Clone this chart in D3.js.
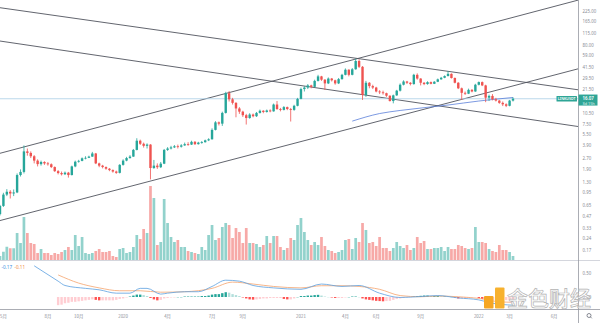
<!DOCTYPE html>
<html><head><meta charset="utf-8">
<script src="https://cdn.jsdelivr.net/npm/d3@7"></script>
<style>body{margin:0;background:#fff}svg{display:block}text{font-family:"Noto Sans","DejaVu Sans",sans-serif}</style>
</head><body><svg id="c" width="600" height="323"></svg>
<script>
// ---------- DATA (weekly LINKUSDT) ----------
const startDate = "2019-04-29";   // Monday of the first weekly bar
const endDate = "2022-03-14";     // Monday of the last weekly bar
const firstOpen = 0.50;
const closes = [0.64,0.90,0.98,0.93,0.96,1.62,1.78,3.30,3.15,2.85,
 2.50,2.25,2.40,2.30,2.24,2.06,1.82,1.72,1.66,1.74,
 1.62,2.10,2.42,2.48,2.68,2.72,2.82,3.10,2.30,2.15,
 2.06,1.96,1.88,1.80,1.73,2.20,2.50,2.70,2.82,3.45,
 4.55,4.15,3.90,4.05,2.00,2.15,2.05,2.28,3.45,3.60,
 3.72,3.85,3.80,3.95,4.10,4.05,4.40,4.10,4.30,4.35,
 4.60,4.75,6.30,7.90,7.60,10.5,19.0,15.8,14.2,12.0,
 10.9,9.80,9.00,10.0,9.50,10.5,11.2,10.8,11.3,11.0,
 13.5,11.8,11.5,12.5,11.8,11.5,13.0,16.0,21.5,22.5,
 24.0,23.0,27.5,31.5,28.5,25.5,29.5,28.0,25.5,29.0,
 33.0,38.5,33.0,39.0,50.0,42.0,18.0,26.0,23.5,22.5,
 20.0,19.5,19.0,17.6,15.0,17.8,20.5,24.5,27.0,26.0,
 25.0,33.0,29.5,26.0,25.0,26.5,25.2,26.8,28.8,30.2,
 31.8,34.0,30.0,26.0,22.0,19.2,18.7,21.0,20.0,24.5,
 26.5,24.0,16.6,17.5,15.8,15.2,14.2,13.6,13.0,15.2,
 16.07];
const highs = [0.66,0.95,1.06,1.03,1.05,1.70,1.92,3.95,3.60,3.30,
 2.95,2.60,2.50,2.45,2.40,2.30,2.10,1.88,1.80,1.80,
 1.78,2.15,2.50,2.56,2.75,2.85,2.90,3.25,3.15,2.35,
 2.20,2.10,2.00,1.92,1.85,2.25,2.60,2.80,2.95,3.55,
 4.90,4.70,4.30,4.20,4.10,2.55,2.30,2.40,3.55,3.75,
 3.90,4.00,4.05,4.10,4.30,4.35,4.55,4.50,4.40,4.50,
 4.70,4.90,6.60,8.20,8.10,10.9,19.8,20.3,16.5,14.5,
 12.5,11.2,10.2,10.4,10.3,10.8,11.6,11.4,11.6,11.7,
 13.9,15.0,12.2,12.9,12.7,12.2,13.4,16.5,22.5,23.5,
 25.0,24.5,28.5,33.0,32.0,29.0,30.5,30.0,28.5,30.0,
 34.0,40.0,39.0,40.5,53.5,52.5,43.0,27.5,26.5,24.5,
 23.0,20.8,20.5,19.3,17.8,18.2,21.0,25.5,28.0,27.5,
 26.5,34.0,34.5,29.8,26.5,27.2,27.0,27.3,29.5,31.0,
 32.5,37.0,34.5,30.5,26.5,22.5,20.0,21.8,21.5,25.2,
 27.0,27.0,24.5,18.2,18.5,16.5,15.5,14.8,14.0,15.5,
 16.8];
const lows = [0.48,0.62,0.86,0.80,0.86,0.94,1.55,1.70,2.90,2.70,
 2.30,2.10,2.15,2.20,2.15,2.00,1.78,1.65,1.60,1.62,
 1.50,1.60,2.05,2.35,2.45,2.60,2.70,2.80,2.25,2.05,
 1.98,1.90,1.82,1.74,1.68,1.70,2.15,2.45,2.65,2.80,
 3.40,4.00,3.70,3.60,1.42,1.95,1.95,2.00,2.25,3.35,
 3.50,3.65,3.60,3.70,3.90,3.90,4.00,4.00,4.05,4.15,
 4.30,4.50,4.70,6.20,7.20,7.10,10.3,14.8,13.5,9.20,
 10.2,9.30,7.40,8.80,9.20,9.30,10.3,10.4,10.6,10.7,
 10.9,11.5,11.0,11.3,11.4,8.10,11.2,12.8,15.8,20.0,
 21.5,22.0,22.8,27.0,27.5,20.9,25.0,27.0,24.5,25.0,
 28.5,32.5,31.5,32.5,38.5,40.5,15.5,17.0,22.0,21.5,
 19.5,18.5,18.2,17.0,14.8,14.0,17.5,20.0,24.0,25.0,
 24.0,24.5,28.5,24.0,24.2,24.5,24.8,25.0,26.5,28.5,
 29.8,31.5,29.5,25.5,21.5,15.5,18.0,18.5,19.5,19.8,
 24.0,23.5,14.5,15.0,15.3,14.8,13.8,12.9,12.5,12.8,
 14.8];
const volumes = [16,33,53,47,47,108,68,172,108,68,
 64,28,44,28,28,20,28,24,32,40,
 52,40,100,56,92,28,24,28,36,44,
 32,32,36,16,12,44,48,28,32,52,
 100,84,124,108,296,248,60,72,244,148,
 92,72,80,52,52,36,32,28,24,52,
 40,100,140,80,88,132,148,140,88,128,
 112,68,128,68,68,64,52,60,96,68,
 96,96,52,40,48,88,80,140,168,112,
 80,60,72,60,92,56,40,36,28,32,
 40,80,84,44,88,72,148,120,68,72,
 56,92,48,48,36,48,72,56,48,60,
 40,48,92,68,76,44,44,48,48,52,
 36,52,44,44,60,56,48,44,48,132,
 72,72,68,44,36,32,60,40,40,32,
 16];
const histStart = 17;
const histValues = [-0.17,-0.16,-0.13,-0.12,-0.10,-0.10,-0.09,-0.08,-0.07,-0.06,
 -0.05,-0.06,-0.07,-0.07,-0.07,-0.07,-0.07,-0.06,-0.04,-0.03,
 -0.01,0.01,0.03,0.05,0.05,0.04,0.02,-0.02,-0.05,-0.07,
 -0.06,-0.03,-0.02,-0.01,-0.01,0.00,0.00,0.01,0.01,0.01,
 0.01,0.01,0.02,0.02,0.03,0.05,0.06,0.06,0.08,0.10,
 0.09,0.06,0.04,0.02,-0.01,-0.03,-0.05,-0.055,-0.05,-0.04,
 -0.03,-0.03,-0.02,-0.02,-0.02,-0.02,-0.04,-0.05,-0.05,-0.03,
 0.00,0.02,0.02,0.03,0.03,0.04,0.045,0.03,0.01,0.00,
 -0.01,-0.02,-0.02,-0.02,-0.01,0.00,0.01,0.01,0.00,-0.03,
 -0.05,-0.06,-0.07,-0.08,-0.085,-0.09,-0.085,-0.08,-0.06,-0.04,
 -0.03,-0.02,-0.01,-0.005,0.01,0.02,0.025,0.03,0.03,0.02,
 0.02,0.02,0.01,0.01,0.005,0.00,-0.01,-0.03,-0.03,-0.03,
 -0.02,-0.01,-0.005,-0.02,-0.04,-0.06,-0.07,-0.07,-0.07,-0.07,
 -0.07,-0.065,-0.06,-0.06];
const macdPoints = [["2019-07-08",0.65],["2019-08-26",0.33],["2019-09-09",0.24],["2019-10-21",0.18],["2019-11-18",0.15],["2019-12-23",0.08],["2020-01-20",0.08],["2020-02-10",0.18],["2020-02-24",0.18],["2020-03-23",0.06],["2020-04-06",0.08],["2020-05-11",0.11],["2020-06-08",0.11],["2020-07-06",0.22],["2020-08-03",0.35],["2020-08-31",0.33],["2020-09-28",0.24],["2020-11-09",0.19],["2021-01-04",0.16],["2021-02-15",0.27],["2021-03-29",0.22],["2021-05-03",0.24],["2021-06-14",0.08],["2021-07-26",-0.01],["2021-09-06",0.01],["2021-10-11",0.03],["2021-11-22",-0.02],["2022-01-03",-0.06],["2022-01-31",-0.13],["2022-03-14",-0.17]];
const signalPoints = [["2019-08-26",0.46],["2019-10-07",0.29],["2019-11-18",0.19],["2019-12-30",0.13],["2020-02-10",0.13],["2020-03-23",0.10],["2020-05-11",0.11],["2020-07-06",0.18],["2020-08-17",0.31],["2020-09-28",0.27],["2020-11-09",0.22],["2021-01-04",0.19],["2021-02-15",0.235],["2021-03-29",0.235],["2021-05-03",0.22],["2021-06-14",0.16],["2021-07-26",0.03],["2021-09-06",0.005],["2021-10-11",0.02],["2021-11-22",0.005],["2022-01-03",-0.03],["2022-02-14",-0.10],["2022-03-14",-0.11]];
const maPoints = [["2021-04-19",8.2],["2021-06-14",10.3],["2021-07-26",11.3],["2021-11-01",13.3],["2022-01-03",15.0],["2022-03-14",16.7]];
const trendLines = [
  [["2019-06-24",3.876],["2021-05-03",54.5]],
  [["2020-03-09",1.389],["2022-03-14",23.64]],
  [["2021-05-03",53.6],["2022-03-14",27.78]],
  [["2020-08-10",32.9],["2022-03-14",9.31]]
];
const priceTicks = [225,165,115,80,59,41.5,29.5,21.5,10.5,7.5,5.5,3.9,2.7,1.9,1.3,0.95,0.65,0.47,0.33,0.24,0.17];
const macdTicks = [0.5,0];
const timeTicks = [["2019-05-06","5月"],["2019-08-05","8月"],["2019-10-07","10月"],["2020-01-06","2020"],["2020-04-06","4月"],["2020-07-06","7月"],["2020-09-07","9月"],["2021-01-04","2021"],["2021-04-05","4月"],["2021-06-07","6月"],["2021-09-06","9月"],["2022-01-03","2022"],["2022-03-07","3月"],["2022-06-06","6月"]];
const symbol = "LINKUSDT", lastPrice = 16.07, countdown = "3d 15h";
const macdLegend = ["-0.17","-0.11"];

// ---------- LAYOUT ----------
const svg = d3.select("#c");
const paneR = 578, mainB = 260, macdB = 309;
const up = "#26a69a", dn = "#ef5350";
const parse = d3.utcParse("%Y-%m-%d");
const barDate = i => d3.utcDay.offset(parse(startDate), 7*i);
const x = d3.scaleUtc().domain([parse(startDate), parse(endDate)]).range([0, 513]);
const y = d3.scaleLog().domain([225, 0.17]).range([11, 250]);
const vy = d3.scaleLinear().domain([0, 300]).range([mainB, 185]);
const my = d3.scaleLinear().domain([0, 0.5]).range([297, 273]);

svg.append("rect").attr("width",600).attr("height",323).attr("fill","#fff");
const defs = svg.append("defs");
defs.append("clipPath").attr("id","cm").append("rect").attr("x",0).attr("y",0).attr("width",paneR).attr("height",mainB);
defs.append("clipPath").attr("id","cd").append("rect").attr("x",0).attr("y",mainB+1).attr("width",paneR).attr("height",macdB-mainB-1);

const bars = closes.map((c,i)=>({i, d:barDate(i), o: i===0?firstOpen:closes[i-1], c, h:highs[i], l:lows[i], v:volumes[i]}));

const main = svg.append("g").attr("clip-path","url(#cm)");
// volume
main.append("g").selectAll("rect").data(bars).join("rect")
  .attr("x",b=>x(b.d)-1.35).attr("width",2.7)
  .attr("y",b=>vy(b.v)).attr("height",b=>mainB-vy(b.v))
  .attr("fill",b=>b.c>=b.o?up:dn).attr("fill-opacity",0.5);
// trend lines
trendLines.forEach(([a,b])=>{
  const x1=x(parse(a[0])), y1=y(a[1]), x2=x(parse(b[0])), y2=y(b[1]);
  const k=(y2-y1)/(x2-x1);
  main.append("line").attr("x1",0).attr("y1",y1-k*x1).attr("x2",paneR).attr("y2",y1+k*(paneR-x1))
    .attr("stroke","#50535e").attr("stroke-width",0.9);
});
// last price line
main.append("line").attr("x1",0).attr("x2",paneR).attr("y1",y(lastPrice)).attr("y2",y(lastPrice))
  .attr("stroke","#a9cfe6").attr("stroke-width",0.8);
// MA
main.append("path").datum(maPoints).attr("fill","none").attr("stroke","#5b7fd9").attr("stroke-width",0.8)
  .attr("d",d3.line().x(p=>x(parse(p[0]))).y(p=>y(p[1])).curve(d3.curveMonotoneX));
// candles
const cg = main.append("g");
cg.selectAll("line").data(bars).join("line")
  .attr("x1",b=>x(b.d)).attr("x2",b=>x(b.d)).attr("y1",b=>y(b.h)).attr("y2",b=>y(b.l))
  .attr("stroke",b=>b.c>=b.o?up:dn).attr("stroke-width",0.8);
cg.selectAll("rect").data(bars).join("rect")
  .attr("x",b=>x(b.d)-1.2).attr("width",2.4)
  .attr("y",b=>Math.min(y(b.o),y(b.c))).attr("height",b=>Math.max(0.8,Math.abs(y(b.o)-y(b.c))))
  .attr("fill",b=>b.c>=b.o?up:dn);

// pane separators / axes lines
svg.append("line").attr("x1",0).attr("x2",600).attr("y1",mainB+0.5).attr("y2",mainB+0.5).attr("stroke","#c9ccd4").attr("stroke-width",0.8);
svg.append("line").attr("x1",0).attr("x2",600).attr("y1",macdB+0.5).attr("y2",macdB+0.5).attr("stroke","#9598a1").attr("stroke-width",0.8);
svg.append("line").attr("x1",paneR+0.5).attr("x2",paneR+0.5).attr("y1",0).attr("y2",323).attr("stroke","#9598a1").attr("stroke-width",0.8);

// MACD pane
const md = svg.append("g").attr("clip-path","url(#cd)");
const hist = histValues.map((v,k)=>({i:histStart+k, v, p: k>0?histValues[k-1]:v}));
md.selectAll("rect").data(hist).join("rect")
  .attr("x",h=>x(barDate(h.i))-1.2).attr("width",2.4)
  .attr("y",h=>Math.min(my(h.v),my(0))).attr("height",h=>Math.max(0.3,Math.abs(my(h.v)-my(0))))
  .attr("fill",h=> h.v>=0 ? (h.v>=h.p?"#26a69a":"#b2dfdb") : (h.v<h.p?"#ff5252":"#ffcdd2"));
const ml = d3.line().x(p=>x(parse(p[0]))).y(p=>my(p[1])).curve(d3.curveMonotoneX);
md.append("path").datum(signalPoints).attr("d",ml).attr("fill","none").attr("stroke","#f5a36c").attr("stroke-width",0.8);
md.append("path").datum(macdPoints).attr("d",ml).attr("fill","none").attr("stroke","#5b9fe0").attr("stroke-width",0.8);
svg.append("text").attr("x",1.5).attr("y",268.5).attr("font-size",4.6).attr("fill","#3d8fe0").text(macdLegend[0]);
svg.append("text").attr("x",14.5).attr("y",268.5).attr("font-size",4.6).attr("fill","#f08a3c").text(macdLegend[1]);

// right price axis
const f2 = d3.format(".2f");
svg.append("g").selectAll("text").data(priceTicks).join("text")
  .attr("x",582.5).attr("y",v=>y(v)+1.6).attr("font-size",4.4).attr("fill","#8a8d96").text(v=>f2(v));
svg.append("g").selectAll("text").data(macdTicks).join("text")
  .attr("x",582.5).attr("y",v=>my(v)+1.6).attr("font-size",4.4).attr("fill","#8a8d96").text(v=>f2(v));

// last price labels
const ly = y(lastPrice);
svg.append("rect").attr("x",556.5).attr("y",ly-2.8).attr("width",20.5).attr("height",5.6).attr("fill","#2ea596").attr("rx",0.6);
svg.append("text").attr("x",566.7).attr("y",ly+1.4).attr("text-anchor","middle").attr("font-size",3.6).attr("fill","#fff").attr("font-weight",600).text(symbol);
svg.append("rect").attr("x",paneR+0.5).attr("y",ly-4.2).attr("width",19).attr("height",11).attr("fill","#2ea596");
svg.append("text").attr("x",582.5).attr("y",ly+1.4).attr("font-size",4.4).attr("fill","#fff").attr("font-weight",600).text(f2(lastPrice));
svg.append("text").attr("x",582.5).attr("y",ly+6).attr("font-size",3.8).attr("fill","#e6f5f3").text(countdown);

// time axis
svg.append("g").selectAll("text").data(timeTicks).join("text")
  .attr("x",t=>x(parse(t[0]))).attr("y",317.5).attr("text-anchor","middle")
  .attr("font-size",4.4).attr("fill","#8a8d96")
  .style("font-family",'"Noto Sans CJK SC","Noto Sans",sans-serif').text(t=>t[1]);
// settings icon
svg.append("circle").attr("cx",589).attr("cy",315.5).attr("r",2).attr("fill","none").attr("stroke","#6a6d78").attr("stroke-width",0.8);
svg.append("line").attr("x1",590.4).attr("y1",316.9).attr("x2",591.8).attr("y2",318.3).attr("stroke","#6a6d78").attr("stroke-width",0.8);

// watermark
const wm = svg.append("g");
wm.append("rect").attr("x",484).attr("y",296).attr("width",9.5).attr("height",12.5).attr("fill","#f5a623").attr("rx",1);
wm.append("rect").attr("x",495).attr("y",287.5).attr("width",9.5).attr("height",21).attr("fill","#f7b12e").attr("rx",1);
wm.append("text").attr("x",507).attr("y",306).attr("font-size",21).attr("font-weight",500)
  .style("font-family",'"Noto Sans CJK SC",sans-serif')
  .attr("fill","rgba(255,255,255,0.8)").attr("stroke","#b3b3b3").attr("stroke-width",0.7).text("金色财经");
</script></body></html>
